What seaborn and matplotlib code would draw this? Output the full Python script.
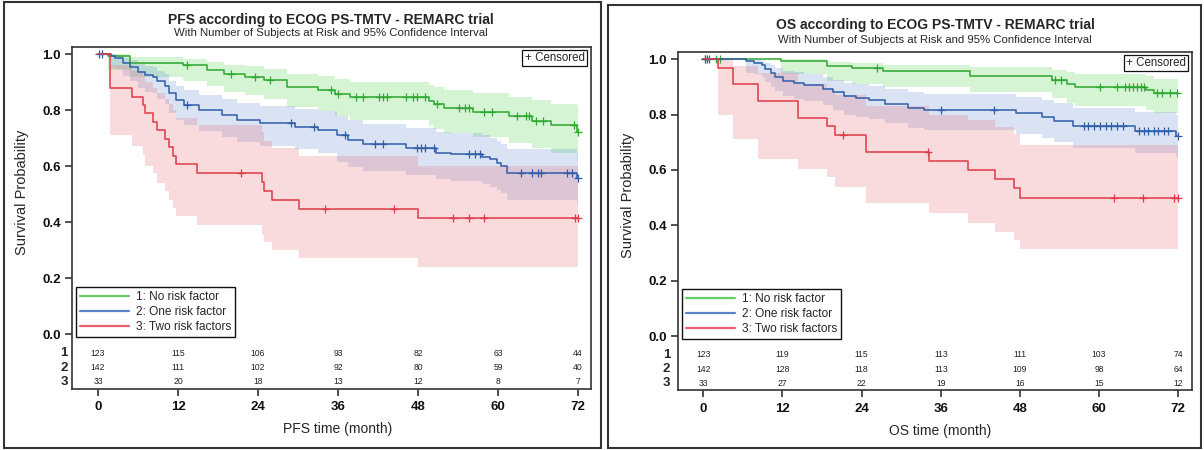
import numpy as np
import matplotlib
matplotlib.use("Agg")
import matplotlib.pyplot as plt
import matplotlib.transforms as mtransforms
from matplotlib.lines import Line2D
from matplotlib.patches import Rectangle
import seaborn as sns

# ============================================================
# DATA
# ============================================================
GROUP_LABELS = ["1: No risk factor", "2: One risk factor", "3: Two risk factors"]
RISK_TIMES = [0, 12, 24, 36, 48, 60, 72]

# --- PFS, group 1 (no risk factor) ---
pfs1_t  = [0, 1.5, 4.8, 12.7, 16.3, 18.9, 22.0, 24.9, 28.4, 33.0, 35.5, 37.8, 49.6, 50.4, 51.9, 56.2, 61.7, 65.1, 68.0, 71.8, 72]
pfs1_s  = [1.0, .992, .968, .959, .943, .927, .919, .907, .883, .871, .857, .845, .833, .820, .806, .794, .778, .762, .745, .722, .722]
pfs1_lo = [1.0, .944, .918, .905, .885, .864, .854, .840, .810, .795, .778, .764, .748, .733, .717, .703, .683, .665, .645, .625, .625]
pfs1_hi = [1.0, .999, .988, .983, .973, .962, .956, .947, .929, .920, .909, .900, .891, .881, .870, .860, .848, .835, .822, .810, .810]
pfs1_cens = [13.4, 20.0, 23.5, 25.8, 35.0, 36.0, 38.7, 39.8, 42.1, 42.7, 43.3, 46.2, 47.3, 47.9, 49.0, 50.9,
             54.2, 55.1, 55.6, 57.9, 59.1, 62.8, 64.2, 64.6, 65.7, 66.8, 71.4, 72]

# --- PFS, group 2 (one risk factor) ---
pfs2_t  = [0, 2.0, 2.5, 3.7, 4.8, 6.0, 7.1, 8.3, 8.8, 10.0, 10.6, 11.7, 12.9, 15.2, 18.6, 20.9, 24.3, 29.5, 33.0, 35.8,
           37.5, 39.8, 46.2, 50.7, 53.0, 57.6, 58.8, 59.9, 60.5, 61.4, 71.8, 72]
pfs2_s  = [1.0, .993, .985, .967, .955, .937, .925, .917, .902, .886, .860, .836, .818, .800, .782, .764, .752, .740, .729, .711,
           .693, .679, .663, .648, .643, .633, .624, .612, .600, .574, .556, .556]
pfs2_lo = [1.0, .950, .945, .920, .905, .880, .865, .860, .840, .820, .790, .765, .745, .725, .705, .685, .672, .660, .647, .615,
           .597, .583, .567, .552, .547, .536, .526, .514, .502, .477, .462, .462]
pfs2_hi = [1.0, .999, .995, .985, .980, .967, .958, .952, .940, .928, .905, .885, .870, .855, .840, .825, .815, .805, .795, .780,
           .765, .750, .737, .722, .718, .710, .700, .690, .680, .660, .645, .645]
pfs2_cens = [0.2, 0.6, 13.4, 28.9, 32.4, 37.0, 41.6, 42.7, 47.9, 48.5, 49.0, 50.4, 55.6, 56.5, 57.3, 63.4, 65.1,
             66.0, 66.5, 70.3, 71.1, 72]

# --- PFS, group 3 (two risk factors) ---
pfs3_t  = [0, 1.8, 5.1, 6.8, 7.1, 8.3, 8.8, 10.0, 10.6, 11.2, 11.7, 14.9, 24.6, 24.9, 26.1, 30.1, 48.0, 72]
pfs3_s  = [1.0, .879, .848, .818, .788, .758, .727, .697, .667, .636, .606, .576, .544, .512, .480, .448, .414, .414]
pfs3_lo = [1.0, .71, .67, .64, .60, .575, .54, .51, .48, .45, .42, .39, .355, .33, .30, .27, .24, .24]
pfs3_hi = [1.0, .96, .94, .92, .90, .88, .86, .84, .82, .80, .77, .745, .72, .69, .665, .635, .60, .60]
pfs3_cens = [21.4, 34.1, 44.4, 53.3, 55.6, 57.9, 71.5, 72]

pfs_at_risk = [[123, 115, 106, 93, 82, 63, 44],
               [142, 111, 102, 92, 80, 59, 40],
               [33, 20, 18, 13, 12, 8, 7]]

# --- OS, group 1 ---
os1_t  = [0, 11.8, 18.8, 22.6, 27.3, 40.4, 52.9, 55.2, 56.4, 67.2, 68.3, 72]
os1_s  = [1.0, .992, .976, .967, .958, .941, .924, .910, .898, .888, .877, .877]
os1_lo = [1.0, .945, .920, .910, .900, .880, .860, .843, .830, .818, .806, .806]
os1_hi = [1.0, .999, .990, .985, .980, .972, .962, .952, .945, .938, .930, .930]
os1_cens = [0.3, 2.0, 2.6, 26.4, 53.4, 54.2, 60.2, 62.8, 64.0, 64.6, 65.2, 65.7, 66.3, 66.8, 68.8, 69.5, 70.7, 71.9]

# --- OS, group 2 ---
os2_t  = [0, 6.5, 7.7, 8.9, 9.4, 10.3, 10.9, 12.1, 13.8, 15.3, 18.2, 19.7, 21.4, 23.2, 25.2, 27.5, 31.0, 33.4,
          47.4, 51.4, 53.2, 56.1, 65.4, 71.6, 72]
os2_s  = [1.0, .993, .986, .979, .965, .951, .937, .922, .915, .908, .894, .880, .866, .859, .852, .838, .824, .816,
          .804, .790, .776, .757, .740, .722, .722]
os2_lo = [1.0, .950, .945, .935, .918, .900, .885, .868, .858, .850, .833, .817, .800, .792, .784, .768, .753, .745,
          .730, .715, .700, .680, .660, .645, .645]
os2_hi = [1.0, .999, .996, .993, .986, .978, .968, .958, .953, .948, .937, .925, .914, .909, .903, .892, .880, .875,
          .865, .853, .840, .825, .810, .800, .800]
os2_cens = [0.2, 0.5, 0.8, 36.0, 44.1, 57.8, 58.4, 59.2, 60.1, 61.0, 61.8, 62.7, 63.6, 66.0, 66.8, 67.5, 68.3,
            69.0, 69.8, 70.5, 72]

# --- OS, group 3 ---
os3_t  = [0, 2.2, 4.5, 8.3, 14.4, 18.8, 20.0, 24.6, 34.2, 40.1, 44.2, 47.1, 48.0, 72]
os3_s  = [1.0, .970, .909, .848, .788, .758, .727, .664, .633, .599, .566, .533, .500, .500]
os3_lo = [1.0, .80, .71, .64, .605, .575, .54, .479, .443, .407, .377, .347, .316, .316]
os3_hi = [1.0, .996, .975, .95, .91, .89, .87, .83, .80, .78, .755, .73, .69, .69]
os3_cens = [21.2, 34.0, 62.2, 66.6, 71.3, 72]

os_at_risk = [[123, 119, 115, 113, 111, 103, 74],
              [142, 128, 118, 113, 109, 98, 64],
              [33, 27, 22, 19, 16, 15, 12]]

# ============================================================
# STYLE
# ============================================================
LINE_COLORS = ["#2EA82E", "#2F5DA8", "#E03A48"]
BAND_COLORS = ["#5BD75B", "#6F93D6", "#E8707E"]
LEGEND_COLORS = ["#66CC66", "#5B82C8", "#E8606C"]
BAND_ALPHA = 0.26
EDGE = "#333333"

sns.set_style("ticks")
plt.rcParams["font.family"] = ["Liberation Sans Narrow", "Liberation Sans", "DejaVu Sans"]

W, H = 1204, 450
fig = plt.figure(figsize=(W / 100, H / 100), dpi=100)

# panel frames
fig.add_artist(Rectangle((4 / W, 2 / H), 597 / W, 446 / H, transform=fig.transFigure,
                         fill=False, lw=1.5, ec=EDGE))
fig.add_artist(Rectangle((608 / W, 2 / H), 593 / W, 443 / H, transform=fig.transFigure,
                         fill=False, lw=1.5, ec=EDGE))


def draw_panel(ax, curves, at_risk, xlim, ylim, xlabel, ylab_xy, xlab_xy, row_lab_x, leg_anchor):
    for i, (t, s, lo, hi, cens) in enumerate(curves):
        ax.fill_between(t, lo, hi, step="post", color=BAND_COLORS[i], alpha=BAND_ALPHA, lw=0)
    for i, (t, s, lo, hi, cens) in enumerate(curves):
        sns.lineplot(x=t, y=s, drawstyle="steps-post", estimator=None, sort=False,
                     color=LINE_COLORS[i], lw=1.1, ax=ax, legend=False)
        idx = np.searchsorted(t, cens, side="right") - 1
        ax.plot(cens, np.array(s)[idx], "+", color=LINE_COLORS[i], ms=6, mew=0.9)

    ax.set_xlim(*xlim)
    ax.set_ylim(*ylim)
    ax.set_xticks(RISK_TIMES)
    ax.set_yticks([0, 0.2, 0.4, 0.6, 0.8, 1.0])
    ax.set_yticklabels(["0.0", "0.2", "0.4", "0.6", "0.8", "1.0"])
    ax.tick_params(axis="both", length=5, width=1.2, color=EDGE, labelsize=9.5, pad=4)
    ax.tick_params(axis="y", pad=3)
    for lab in ax.get_xticklabels() + ax.get_yticklabels():
        lab.set_fontweight("bold")
        lab.set_color("#111111")
    for sp in ax.spines.values():
        sp.set_visible(True)
        sp.set_linewidth(1.2)
        sp.set_color(EDGE)

    ax.set_ylabel("Survival Probability", fontsize=10.5)
    ax.yaxis.set_label_coords(*ylab_xy)
    ax.set_xlabel(xlabel, fontsize=10)
    ax.xaxis.set_label_coords(*xlab_xy)

    # number at risk table inside the axes
    row_y = [-0.068, -0.12, -0.17]
    blend = mtransforms.blended_transform_factory(ax.transAxes, ax.transData)
    for r, counts in enumerate(at_risk):
        for tt, n in zip(RISK_TIMES, counts):
            ax.text(tt, row_y[r], str(n), ha="center", va="center", fontsize=6.2, color="#222222")
        ax.text(row_lab_x, row_y[r], str(r + 1), ha="right", va="center", fontsize=9.5,
                fontweight="bold", transform=blend, clip_on=False)

    handles = [Line2D([], [], color=c, lw=1.6) for c in LEGEND_COLORS]
    leg = ax.legend(handles, GROUP_LABELS, loc="lower left", bbox_to_anchor=leg_anchor,
                    borderaxespad=0, frameon=True, fancybox=False, edgecolor="#111111",
                    framealpha=1, fontsize=8.6, handlelength=4.1, handletextpad=0.6,
                    labelspacing=0.28, borderpad=0.3)
    leg.get_frame().set_linewidth(1.0)

    ax.text(0.988, 0.985, "+ Censored", transform=ax.transAxes, ha="right", va="top",
            fontsize=8.3, bbox=dict(boxstyle="square,pad=0.2", fc="white", ec="#111111", lw=0.9))


# ============================================================
# LEFT PANEL  — PFS
# ============================================================
ax1 = fig.add_axes([72 / W, 1 - 389 / H, 519 / W, 342 / H])
draw_panel(ax1,
           [(pfs1_t, pfs1_s, pfs1_lo, pfs1_hi, pfs1_cens),
            (pfs2_t, pfs2_s, pfs2_lo, pfs2_hi, pfs2_cens),
            (pfs3_t, pfs3_s, pfs3_lo, pfs3_hi, pfs3_cens)],
           pfs_at_risk, (-3.9, 73.95), (-0.196, 1.025), "PFS time (month)",
           (-0.083, 0.575), (0.5125, -0.097), -0.008, (0.008, 0.152))
fig.text(331 / W, 1 - 20 / H, "PFS according to ECOG PS-TMTV - REMARC trial",
         ha="center", va="center", fontsize=10, fontweight="bold")
fig.text(331 / W, 1 - 33 / H, "With Number of Subjects at Risk and 95% Confidence Interval",
         ha="center", va="center", fontsize=8.2)

# ============================================================
# RIGHT PANEL — OS
# ============================================================
ax2 = fig.add_axes([678 / W, 1 - 390 / H, 514 / W, 338 / H])
draw_panel(ax2,
           [(os1_t, os1_s, os1_lo, os1_hi, os1_cens),
            (os2_t, os2_s, os2_lo, os2_hi, os2_cens),
            (os3_t, os3_s, os3_lo, os3_hi, os3_cens)],
           os_at_risk, (-3.83, 74.1), (-0.195, 1.026), "OS time (month)",
           (-0.084, 0.575), (0.51, -0.10), -0.015, (0.008, 0.151))
fig.text(935 / W, 1 - 25 / H, "OS according to ECOG PS-TMTV - REMARC trial",
         ha="center", va="center", fontsize=10, fontweight="bold")
fig.text(935 / W, 1 - 40 / H, "With Number of Subjects at Risk and 95% Confidence Interval",
         ha="center", va="center", fontsize=8.2)

fig.savefig("out.png", dpi=100)
